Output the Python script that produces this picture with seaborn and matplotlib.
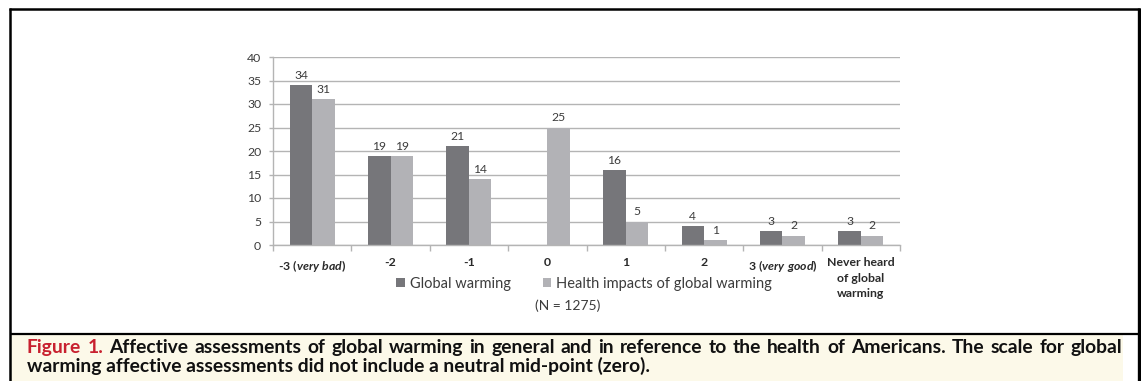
import numpy as np
import pandas as pd
import matplotlib
matplotlib.use("Agg")
import matplotlib.pyplot as plt
from matplotlib.patches import Rectangle
from matplotlib.lines import Line2D
from matplotlib.ticker import FixedLocator
import seaborn as sns

# ---- data -------------------------------------------------------------
categories = ["-3 (very bad)", "-2", "-1", "0", "1", "2", "3 (very good)",
              "Never heard\nof global\nwarming"]
tick_labels = [r"-3 $\mathit{(very\ bad)}$", "-2", "-1", "0", "1", "2",
               r"3 $\mathit{(very\ good)}$", "Never heard\nof global\nwarming"]
global_warming = [34, 19, 21, np.nan, 16, 4, 3, 3]
health_impacts = [31, 19, 14, 25, 5, 1, 2, 2]
series_names = ["Global warming", "Health impacts of global warming"]
sample_note = "(N = 1275)"
caption_line1 = ("Figure 1. Affective assessments of global warming in general and in "
                 "reference to the health of Americans. The scale for global")
caption_line2 = ("warming affective assessments did not include a neutral "
                 "mid-point (zero).")

# ---- style ------------------------------------------------------------
sns.set_theme(style="white")
BASE = "Lato"
plt.rcParams["font.family"] = [BASE, "DejaVu Sans"]
plt.rcParams["mathtext.fontset"] = "custom"
plt.rcParams["mathtext.it"] = f"{BASE}:italic:bold"
plt.rcParams["mathtext.rm"] = f"{BASE}:bold"

CAP_FONT = "Lato"

DARK = "#76767a"
LIGHT = "#b2b2b6"
TEXT = "#3c3c3c"
GRID = "#b4b4b4"

W, H = 1141, 381
fig = plt.figure(figsize=(W / 100, H / 100), dpi=100)
fig.patch.set_facecolor("white")

def fx(px):
    return px / W

def fy(py):
    return 1 - py / H

ax = fig.add_axes([fx(273), fy(245), fx(900) - fx(273), fy(57) - fy(245)])

df = pd.DataFrame({
    "category": categories * 2,
    "series": [series_names[0]] * len(categories) + [series_names[1]] * len(categories),
    "value": list(global_warming) + list(health_impacts),
})

sns.barplot(data=df, x="category", y="value", hue="series", order=categories,
            hue_order=series_names, palette=[DARK, LIGHT], saturation=1,
            width=0.575, linewidth=0, ax=ax)

for cont in ax.containers:
    ax.bar_label(cont, fmt="%d", padding=3, fontsize=8.7, color=TEXT)

ax.set_ylim(0, 40)
ax.set_xlim(-0.5, len(categories) - 0.5)
ax.set_yticks(np.arange(0, 41, 5))
ax.yaxis.grid(True, color=GRID, linewidth=1)
ax.set_axisbelow(True)
ax.set_xlabel("")
ax.set_ylabel("")
for s in ["top", "right"]:
    ax.spines[s].set_visible(False)
for s in ["left", "bottom"]:
    ax.spines[s].set_color(GRID)
    ax.spines[s].set_linewidth(1)

ax.tick_params(axis="y", which="major", length=3, width=1, color=GRID, pad=5.5,
               labelsize=8.8, labelcolor=TEXT, left=True)
ax.set_xticks(range(len(categories)))
ax.set_xticklabels(tick_labels, fontweight="bold", fontsize=8.8, color="#2a2a2a",
                   linespacing=1.45, va="top")
ax.tick_params(axis="x", which="major", length=0, pad=9)
ax.xaxis.set_minor_locator(FixedLocator(np.arange(-0.5, len(categories), 1.0)))
ax.tick_params(axis="x", which="minor", length=4, width=1, color=GRID, bottom=True)

# legend below the axis labels
sns.move_legend(ax, "center", bbox_to_anchor=(fx(584), fy(284)),
                bbox_transform=fig.transFigure, ncol=2, frameon=False, title=None,
                fontsize=10.5, handlelength=0.6, handleheight=0.6,
                handletextpad=0.3, columnspacing=2.2)
for t in ax.get_legend().get_texts():
    t.set_color(TEXT)

fig.text(fx(568), fy(306), sample_note, ha="center", va="center",
         fontsize=10, color=TEXT)

# ---- frame and caption box -------------------------------------------
fig.add_artist(Rectangle((fx(11), 0), fx(1123) - fx(11), fy(335),
                         transform=fig.transFigure, facecolor="#fcf9e9",
                         edgecolor="none", zorder=0))
frame = dict(transform=fig.transFigure, color="black", solid_capstyle="butt")
fig.add_artist(Line2D([fx(9.5), fx(9.5)], [0, fy(8)], linewidth=1.8, **frame))
fig.add_artist(Line2D([fx(1138.5), fx(1138.5)], [0, fy(8)], linewidth=2.4, **frame))
fig.add_artist(Line2D([fx(8.5), fx(1139.5)], [fy(9), fy(9)], linewidth=1.8, **frame))
fig.add_artist(Line2D([fx(9.5), fx(1138.5)], [fy(333.5), fy(333.5)], linewidth=1.6, **frame))

renderer = fig.canvas.get_renderer()
x0, x1 = 27, 1122

# caption size chosen so the second (unjustified) line spans its width
line2 = fig.text(fx(x0), fy(372), caption_line2, color="#111111", fontsize=11,
                 fontweight="bold", family=CAP_FONT, va="baseline")
w2 = line2.get_window_extent(renderer).width
cap_size = 11 * 621 / w2
line2.set_fontsize(cap_size)

# justified first caption line
words = caption_line1.split()
cap_kw = dict(fontsize=cap_size, fontweight="bold", family=CAP_FONT, va="baseline")
texts = []
for i, w in enumerate(words):
    col = "#c8202f" if i < 2 else "#111111"
    texts.append(fig.text(0, fy(353), w, color=col, **cap_kw))
widths = [t.get_window_extent(renderer).width for t in texts]
gap = (x1 - x0 - sum(widths)) / (len(words) - 1)
x = x0
for t, w in zip(texts, widths):
    t.set_x(fx(x))
    x += w + gap

fig.savefig("out.png", dpi=100, facecolor="white")
